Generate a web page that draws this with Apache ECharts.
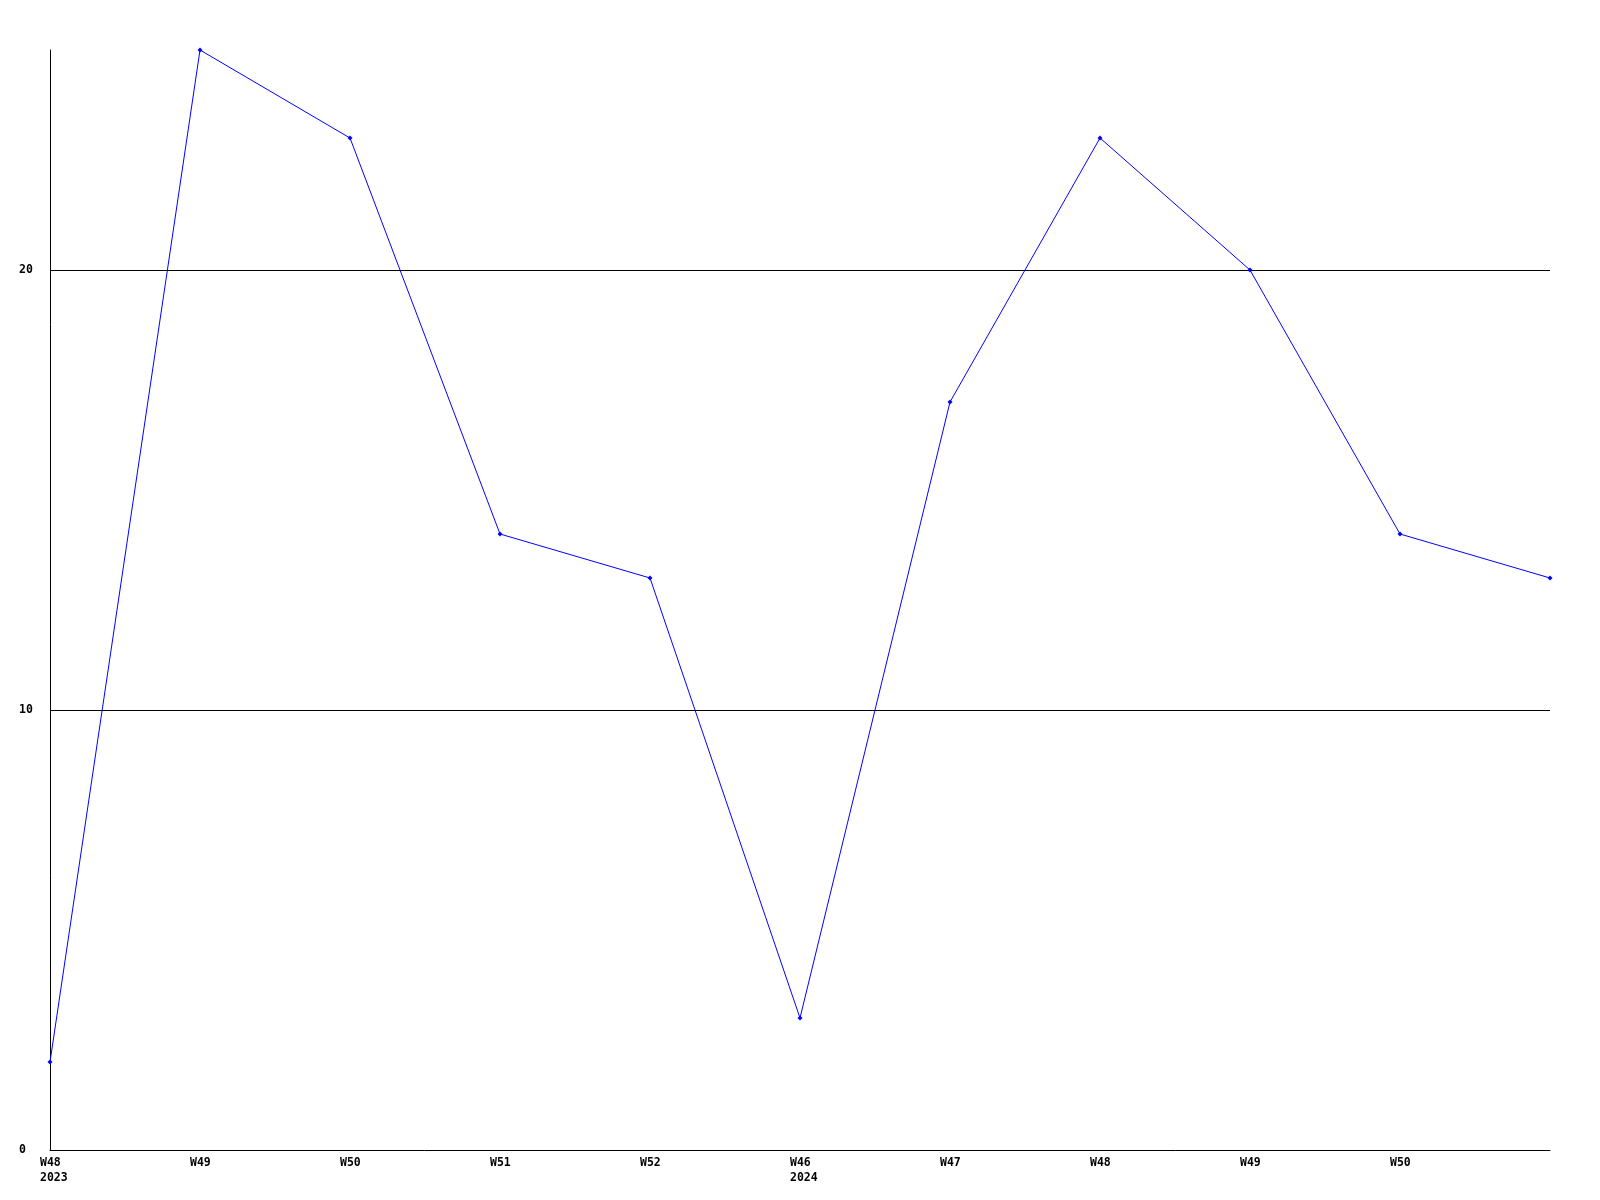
<!DOCTYPE html>
<html>
<head>
<meta charset="utf-8">
<script src="https://cdn.jsdelivr.net/npm/echarts@6/dist/echarts.min.js"></script>
<style>html,body{margin:0;padding:0;background:#fff;}#c{width:1600px;height:1200px;}</style>
</head>
<body>
<div id="c"></div>
<script>
const weeks = ['W48', 'W49', 'W50', 'W51', 'W52', 'W46', 'W47', 'W48', 'W49', 'W50', ''];
const years = ['2023', '', '', '', '', '2024', '', '', '', '', ''];
const values = [2, 25, 23, 14, 13, 3, 17, 23, 20, 14, 13];
const yTicks = [0, 10, 20];

const cats = weeks.map((w, i) => i + '');
const chart = echarts.init(document.getElementById('c'), null, {renderer: 'canvas'});
const font = {fontFamily: 'DejaVu Sans Mono', fontWeight: 'bold', fontSize: 11.5, color: '#000'};
chart.setOption({
  animation: false,
  backgroundColor: '#fff',
  grid: {left: 50, top: 50, right: 50, bottom: 50},
  xAxis: {
    type: 'category',
    data: cats,
    boundaryGap: false,
    axisLine: {lineStyle: {color: '#000', width: 1}},
    axisTick: {show: false},
    splitLine: {show: false},
    axisLabel: {
      interval: 0,
      margin: 6,
      formatter: function (v) {
        const i = +v;
        if (!weeks[i]) return '';
        return years[i] ? '{a|' + weeks[i] + '}\n{a|' + years[i] + '}' : '{a|' + weeks[i] + '}';
      },
      rich: {a: Object.assign({}, font, {width: 20, align: 'left', lineHeight: 15})}
    }
  },
  yAxis: {
    type: 'value',
    min: 0,
    max: 25,
    interval: 10,
    axisLine: {show: true, lineStyle: {color: '#000', width: 1}},
    axisTick: {show: false},
    splitLine: {show: true, showMinLine: false, showMaxLine: false, lineStyle: {color: '#000', width: 1}},
    axisLabel: Object.assign({}, font, {
      align: 'left',
      margin: 31,
      showMaxLabel: false,
      formatter: function (v) { return yTicks.indexOf(v) >= 0 ? String(v) : ''; }
    })
  },
  series: [{
    type: 'line',
    data: values,
    symbol: 'diamond',
    symbolSize: 5,
    showAllSymbol: true,
    lineStyle: {color: '#0000ff', width: 1},
    itemStyle: {color: '#0000ff'}
  }]
});
</script>
</body>
</html>
